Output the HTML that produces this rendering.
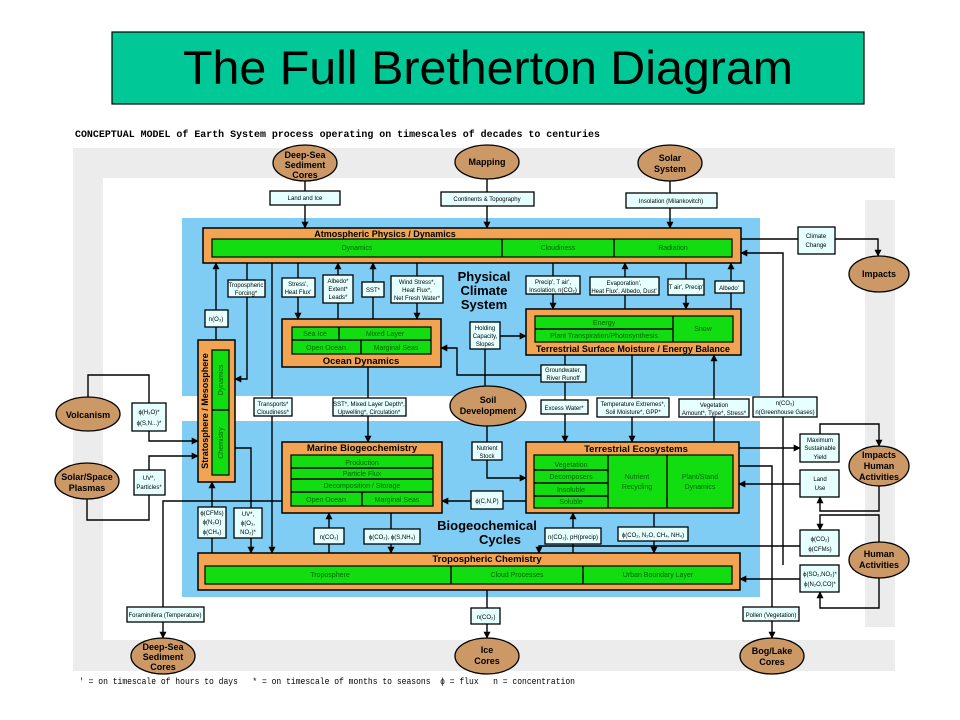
<!DOCTYPE html>
<html><head><meta charset="utf-8"><style>
body{margin:0;background:#fff;width:960px;height:720px;overflow:hidden}
svg{display:block}
text{font-family:"Liberation Sans",sans-serif}
.lb{fill:#e6ffff;stroke:#000;stroke-width:1.3}
.t{font-size:6px;text-anchor:middle;fill:#000}
.g{font-size:7px;text-anchor:middle;fill:#006600}
.h{font-size:9.5px;font-weight:bold;text-anchor:middle;fill:#000}
.el{fill:#cc9966;stroke:#000;stroke-width:1.3}
.et{font-size:9px;font-weight:bold;text-anchor:middle;fill:#000}
.ln{fill:none;stroke:#000;stroke-width:1.4}
.a{fill:none;stroke:#000;stroke-width:1.4;marker-end:url(#ar)}
.or{fill:#f2a452;stroke:#000;stroke-width:1.5}
.gr{fill:#11dd11;stroke:#000;stroke-width:1.2}
</style></head><body>
<svg width="960" height="720" viewBox="0 0 960 720">
<defs><marker id="ar" viewBox="0 0 10 10" refX="9" refY="5" markerWidth="5" markerHeight="5" orient="auto"><path d="M0,0L10,5L0,10z" fill="#000"/></marker></defs>
<rect x="112" y="32" width="752" height="72" fill="#00c896" stroke="#000" stroke-width="1.2"/>
<text x="488" y="84" textLength="610" lengthAdjust="spacingAndGlyphs" style="font-size:47px;text-anchor:middle">The Full Bretherton Diagram</text>
<text x="75" y="137" textLength="525" lengthAdjust="spacingAndGlyphs" style="font-family:'Liberation Mono',monospace;font-size:10px;font-weight:bold">CONCEPTUAL MODEL of Earth System process operating on timescales of decades to centuries</text>
<rect x="73" y="148" width="822" height="30" fill="#ececec"/>
<rect x="73" y="148" width="30" height="523" fill="#ececec"/>
<rect x="73" y="640" width="822" height="31" fill="#ececec"/>
<rect x="865" y="200" width="30" height="427" fill="#ececec"/>
<rect x="182" y="218" width="578" height="178" fill="#7fcdf5"/>
<rect x="182" y="421" width="578" height="176" fill="#7fcdf5"/>
<text class="h" x="484" y="281" style="font-size:13px">Physical</text>
<text class="h" x="484" y="295" style="font-size:13px">Climate</text>
<text class="h" x="484" y="309" style="font-size:13px">System</text>
<text class="h" x="487" y="530" style="font-size:13px">Biogeochemical</text>
<text class="h" x="500" y="544" style="font-size:13px">Cycles</text>
<path class="ln" d="M305,181V191"/><path class="a" d="M305,205V228"/>
<path class="ln" d="M487,179V192"/><path class="a" d="M487,206V228"/>
<path class="ln" d="M670,181V193"/><path class="a" d="M670,208V228"/>
<path class="ln" d="M741,239H798"/><path class="a" d="M835,239H878V256"/>
<path class="a" d="M783,565V253H741"/>
<path class="a" d="M247,263V379H235"/>
<path class="a" d="M216,340V263"/>
<path class="a" d="M272,263V553"/>
<path class="a" d="M298,263V319"/><path class="a" d="M338,319V263"/><path class="a" d="M373,319V263"/><path class="a" d="M417,263V319"/>
<path class="a" d="M368,367V442"/>
<path class="a" d="M553,263V309"/><path class="a" d="M625,309V263"/><path class="a" d="M686,263V309"/><path class="a" d="M731,309V263"/>
<path class="ln" d="M485,386V349"/><path class="a" d="M500,336H526"/>
<path class="a" d="M541,375H457V348H441"/>
<path class="a" d="M565,355V442"/><path class="a" d="M632,355V442"/>
<path class="a" d="M714,442V355"/>
<path class="a" d="M487,426V478H526"/>
<path class="a" d="M534,501H442"/>
<path class="a" d="M291,501H163V638"/>
<path class="ln" d="M88,397V375H149V403"/><path class="a" d="M149,431V441H198"/>
<path class="ln" d="M87,499V520H149V495"/><path class="a" d="M149,470V456H198"/>
<path class="a" d="M212,566V482"/>
<path class="a" d="M235,448H251V553"/>
<path class="a" d="M329,566V513"/><path class="a" d="M391,513V553"/>
<path class="a" d="M573,553V513"/><path class="a" d="M800,546H539V553"/>
<path class="a" d="M654,513V553"/>
<path class="a" d="M487,590V638"/>
<path class="a" d="M739,448H800"/>
<path class="a" d="M739,466H772V638"/>
<path class="a" d="M800,484H739"/>
<path class="a" d="M820,434V424H879V446"/>
<path class="a" d="M879,486V511H820V497"/>
<path class="a" d="M879,542V515H820V530"/>
<path class="a" d="M879,578V608H820V592"/>
<path class="a" d="M800,579H740"/>
<rect class="or" x="203" y="228" width="538" height="35"/>
<text class="h" x="385" y="237" style="font-size:9px">Atmospheric Physics / Dynamics</text>
<rect class="gr" x="212" y="239" width="520" height="18"/>
<path class="ln" d="M502,239V257M614,239V257"/>
<text class="g" x="357" y="250">Dynamics</text><text class="g" x="558" y="250">Cloudiness</text><text class="g" x="673" y="250">Radiation</text>
<rect class="or" x="282" y="319" width="159" height="48"/>
<rect class="gr" x="292" y="327" width="139" height="27"/>
<path class="ln" d="M292,340H431M339,327V340M361,340V354"/>
<text class="g" x="315" y="336">Sea Ice</text><text class="g" x="385" y="336">Mixed Layer</text>
<text class="g" x="326" y="350">Open Ocean</text><text class="g" x="396" y="350">Marginal Seas</text>
<text class="h" x="361" y="364">Ocean Dynamics</text>
<rect class="or" x="526" y="309" width="215" height="46"/>
<rect class="gr" x="535" y="316" width="198" height="26"/>
<path class="ln" d="M535,329H673M673,316V342"/>
<text class="g" x="604" y="325">Energy</text><text class="g" x="604" y="338">Plant Transpiration/Photosynthesis</text><text class="g" x="703" y="331">Snow</text>
<text class="h" x="633" y="352" style="font-size:9px">Terrestrial Surface Moisture / Energy Balance</text>
<rect class="or" x="198" y="340" width="37" height="142"/>
<rect class="gr" x="212" y="350" width="17" height="125"/>
<path class="ln" d="M212,410H229"/>
<text class="h" transform="translate(208,411) rotate(-90)" style="font-size:9px">Stratosphere / Mesosphere</text>
<text class="g" transform="translate(223,380) rotate(-90)">Dynamics</text>
<text class="g" transform="translate(223,443) rotate(-90)">Chemistry</text>
<rect class="or" x="282" y="442" width="160" height="71"/>
<text class="h" x="362" y="451">Marine Biogeochemistry</text>
<rect class="gr" x="291" y="455" width="142" height="51"/>
<path class="ln" d="M291,468H433M291,479H433M291,492H433M362,492V506"/>
<text class="g" x="362" y="465">Production</text><text class="g" x="362" y="476">Particle Flux</text><text class="g" x="362" y="488">Decomposition / Storage</text>
<text class="g" x="326" y="502">Open Ocean</text><text class="g" x="397" y="502">Marginal Seas</text>
<rect class="or" x="526" y="442" width="213" height="71"/>
<text class="h" x="636" y="452">Terrestrial Ecosystems</text>
<rect class="gr" x="534" y="455" width="199" height="53"/>
<path class="ln" d="M534,470H608M534,483H608M534,496H608M608,455V508M667,455V508"/>
<text class="g" x="571" y="467">Vegetation</text><text class="g" x="571" y="479">Decomposers</text><text class="g" x="571" y="492">Insoluble</text><text class="g" x="571" y="504">Soluble</text>
<text class="g" x="637" y="479">Nutrient</text><text class="g" x="637" y="489">Recycling</text>
<text class="g" x="700" y="479">Plant/Stand</text><text class="g" x="700" y="489">Dynamics</text>
<rect class="or" x="198" y="553" width="542" height="37"/>
<text class="h" x="487" y="562">Tropospheric Chemistry</text>
<rect class="gr" x="205" y="566" width="527" height="18"/>
<path class="ln" d="M451,566V584M583,566V584"/>
<text class="g" x="330" y="577">Troposphere</text><text class="g" x="517" y="577">Cloud Processes</text><text class="g" x="658" y="577">Urban Boundary Layer</text>
<rect class="lb" x="270" y="191" width="70" height="14"/><text class="t" x="305" y="200">Land and Ice</text>
<rect class="lb" x="441" y="192" width="93" height="14"/><text class="t" x="487" y="201">Continents &amp; Topography</text>
<rect class="lb" x="626" y="193" width="91" height="15"/><text class="t" x="671" y="203">Insolation (Milankovitch)</text>
<rect class="lb" x="798" y="227" width="37" height="27"/><text class="t" x="816" y="238">Climate</text><text class="t" x="816" y="247">Change</text>
<rect class="lb" x="228" y="280" width="37" height="17"/><text class="t" x="246" y="287">Tropospheric</text><text class="t" x="246" y="295">Forcing*</text>
<rect class="lb" x="205" y="310" width="23" height="17"/><text class="t" x="216" y="321">n(O₃)</text>
<rect class="lb" x="282" y="278" width="33" height="19"/><text class="t" x="298" y="286">Stress',</text><text class="t" x="298" y="294">Heat Flux'</text>
<rect class="lb" x="323" y="275" width="30" height="28"/><text class="t" x="338" y="283">Albedo*</text><text class="t" x="338" y="291">Extent*</text><text class="t" x="338" y="299">Leads*</text>
<rect class="lb" x="362" y="282" width="22" height="15"/><text class="t" x="373" y="292">SST*</text>
<rect class="lb" x="391" y="276" width="52" height="27"/><text class="t" x="417" y="284">Wind Stress*,</text><text class="t" x="417" y="292">Heat Flux*,</text><text class="t" x="417" y="300">Net Fresh Water*</text>
<rect class="lb" x="526" y="276" width="54" height="18"/><text class="t" x="553" y="284">Precip', T air',</text><text class="t" x="553" y="292">Insolation, n(CO₂)</text>
<rect class="lb" x="590" y="277" width="69" height="18"/><text class="t" x="624" y="285">Evaporation',</text><text class="t" x="624" y="293">Heat Flux', Albedo, Dust'</text>
<rect class="lb" x="668" y="279" width="36" height="16"/><text class="t" x="686" y="289">T air', Precip'</text>
<rect class="lb" x="715" y="281" width="29" height="12"/><text class="t" x="729" y="290">Albedo'</text>
<rect class="lb" x="470" y="322" width="30" height="27"/><text class="t" x="485" y="330">Holding</text><text class="t" x="485" y="338">Capacity,</text><text class="t" x="485" y="346">Slopes</text>
<rect class="lb" x="541" y="365" width="45" height="17"/><text class="t" x="563" y="372">Groundwater,</text><text class="t" x="563" y="380">River Runoff</text>
<rect class="lb" x="541" y="400" width="47" height="14"/><text class="t" x="564" y="410">Excess Water*</text>
<rect class="lb" x="597" y="398" width="72" height="19"/><text class="t" x="633" y="406">Temperature Extremes*,</text><text class="t" x="633" y="414">Soil Moisture*, GPP*</text>
<rect class="lb" x="679" y="399" width="70" height="18"/><text class="t" x="714" y="407">Vegetation</text><text class="t" x="714" y="415">Amount*, Type*, Stress*</text>
<rect class="lb" x="753" y="397" width="64" height="20"/><text class="t" x="785" y="405">n(CO₂)</text><text class="t" x="785" y="414">n(Greenhouse Gases)</text>
<rect class="lb" x="132" y="403" width="34" height="28"/><text class="t" x="149" y="414">ϕ(H₂O)*</text><text class="t" x="149" y="425">ϕ(S,N...)*</text>
<rect class="lb" x="134" y="470" width="31" height="25"/><text class="t" x="149" y="480">UV*,</text><text class="t" x="149" y="489">Particles*</text>
<rect class="lb" x="254" y="398" width="38" height="18"/><text class="t" x="273" y="406">Transports*</text><text class="t" x="273" y="414">Cloudiness*</text>
<rect class="lb" x="333" y="398" width="73" height="18"/><text class="t" x="369" y="406">SST*, Mixed Layer Depth*,</text><text class="t" x="369" y="414">Upwelling*, Circulation*</text>
<rect class="lb" x="472" y="442" width="30" height="18"/><text class="t" x="487" y="450">Nutrient</text><text class="t" x="487" y="458">Stock</text>
<rect class="lb" x="471" y="491" width="32" height="18"/><text class="t" x="487" y="503">ϕ(C,N,P)</text>
<rect class="lb" x="198" y="507" width="28" height="31"/><text class="t" x="212" y="515">ϕ(CFMs)</text><text class="t" x="212" y="524">ϕ(N₂O)</text><text class="t" x="212" y="534">ϕ(CH₄)</text>
<rect class="lb" x="234" y="508" width="28" height="30"/><text class="t" x="248" y="516">UV*,</text><text class="t" x="248" y="525">ϕ(O₃,</text><text class="t" x="248" y="534">NO₂)*</text>
<rect class="lb" x="314" y="528" width="30" height="16"/><text class="t" x="329" y="539">n(CO₂)</text>
<rect class="lb" x="364" y="529" width="56" height="15"/><text class="t" x="392" y="539">ϕ(CO₂), ϕ(S,NH₄)</text>
<rect class="lb" x="545" y="528" width="56" height="16"/><text class="t" x="573" y="539">n(CO₂), pH(precip)</text>
<rect class="lb" x="618" y="527" width="70" height="14"/><text class="t" x="653" y="537">ϕ(CO₂, N₂O, CH₄, NH₄)</text>
<rect class="lb" x="800" y="434" width="39" height="28"/><text class="t" x="820" y="442">Maximum</text><text class="t" x="820" y="450">Sustainable</text><text class="t" x="820" y="459">Yield</text>
<rect class="lb" x="800" y="470" width="39" height="27"/><text class="t" x="820" y="481">Land</text><text class="t" x="820" y="490">Use</text>
<rect class="lb" x="800" y="530" width="39" height="26"/><text class="t" x="820" y="541">ϕ(CO₂)</text><text class="t" x="820" y="551">ϕ(CFMs)</text>
<rect class="lb" x="800" y="565" width="39" height="27"/><text class="t" x="820" y="576">ϕ(SO₂,NO₂)*</text><text class="t" x="820" y="586">ϕ(N₂O,CO)*</text>
<rect class="lb" x="127" y="607" width="77" height="15"/><text class="t" x="165" y="617">Foraminifera (Temperature)</text>
<rect class="lb" x="471" y="608" width="29" height="16"/><text class="t" x="486" y="619">n(CO₂)</text>
<rect class="lb" x="743" y="607" width="56" height="14"/><text class="t" x="771" y="617">Pollen (Vegetation)</text>
<ellipse class="el" cx="305" cy="163" rx="32" ry="18"/><text class="et" x="305" y="158">Deep-Sea</text><text class="et" x="305" y="168">Sediment</text><text class="et" x="305" y="178">Cores</text>
<ellipse class="el" cx="487" cy="162" rx="32" ry="17"/><text class="et" x="487" y="165">Mapping</text>
<ellipse class="el" cx="670" cy="163" rx="32" ry="18"/><text class="et" x="670" y="161">Solar</text><text class="et" x="670" y="172">System</text>
<ellipse class="el" cx="879" cy="274" rx="30" ry="18"/><text class="et" x="879" y="277">Impacts</text>
<ellipse class="el" cx="88" cy="414" rx="32" ry="17"/><text class="et" x="88" y="418">Volcanism</text>
<ellipse class="el" cx="87" cy="481" rx="32" ry="18"/><text class="et" x="87" y="480">Solar/Space</text><text class="et" x="87" y="491">Plasmas</text>
<ellipse class="el" cx="488" cy="406" rx="38" ry="20"/><text class="et" x="488" y="403">Soil</text><text class="et" x="488" y="414">Development</text>
<ellipse class="el" cx="879" cy="466" rx="30" ry="20"/><text class="et" x="879" y="458">Impacts</text><text class="et" x="879" y="469">Human</text><text class="et" x="879" y="480">Activities</text>
<ellipse class="el" cx="879" cy="560" rx="30" ry="18"/><text class="et" x="879" y="557">Human</text><text class="et" x="879" y="568">Activities</text>
<ellipse class="el" cx="163" cy="656" rx="32" ry="18"/><text class="et" x="163" y="650">Deep-Sea</text><text class="et" x="163" y="660">Sediment</text><text class="et" x="163" y="670">Cores</text>
<ellipse class="el" cx="487" cy="656" rx="32" ry="18"/><text class="et" x="487" y="653">Ice</text><text class="et" x="487" y="664">Cores</text>
<ellipse class="el" cx="772" cy="656" rx="32" ry="18"/><text class="et" x="772" y="654">Bog/Lake</text><text class="et" x="772" y="665">Cores</text>
<text x="79" y="684" textLength="496" lengthAdjust="spacingAndGlyphs" style="font-family:'Liberation Mono',monospace;font-size:9.4px;white-space:pre" xml:space="preserve">' = on timescale of hours to days   * = on timescale of months to seasons  ϕ = flux   n = concentration</text>
</svg>
</body></html>
